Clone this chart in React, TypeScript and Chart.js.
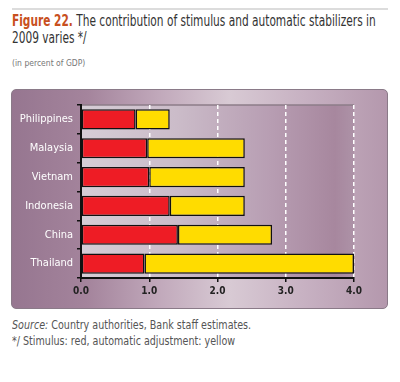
import React, { useEffect, useRef } from "react";
import { Chart, registerables } from "chart.js";

Chart.register(...registerables);

const categories = ["Philippines", "Malaysia", "Vietnam", "Indonesia", "China", "Thailand"];
const stimulus = [0.8, 0.97, 1.0, 1.3, 1.42, 0.93];
const automatic = [0.5, 1.43, 1.4, 1.1, 1.38, 3.07];
const xTicks = [0, 1, 2, 3, 4];

const FONT = "'DejaVu Sans Condensed', 'Liberation Sans Narrow', Arial, sans-serif";

const plotBg = {
  id: "plotBg",
  beforeDraw(chart: any) {
    const { ctx, chartArea: a } = chart;
    ctx.save();
    const g = ctx.createLinearGradient(a.left, 0, a.right, 0);
    g.addColorStop(0, "#d6cdd6");
    g.addColorStop(0.35, "#cbbcc9");
    g.addColorStop(0.7, "#b79db2");
    g.addColorStop(0.93, "#a7879e");
    g.addColorStop(1, "#ad92a7");
    ctx.fillStyle = g;
    ctx.fillRect(a.left, a.top, a.right - a.left, a.bottom - a.top);
    ctx.strokeStyle = "#8c7c88";
    ctx.lineWidth = 1.5;
    ctx.beginPath();
    ctx.moveTo(a.left, a.top);
    ctx.lineTo(a.right, a.top);
    ctx.stroke();
    ctx.restore();
  },
};

export default function App() {
  const ref = useRef<HTMLCanvasElement | null>(null);
  useEffect(() => {
    document.body.style.margin = "0";
    if (!ref.current) return;
    const chart = new Chart(ref.current, {
      type: "bar",
      data: {
        labels: categories,
        datasets: [
          {
            label: "Stimulus",
            data: stimulus,
            backgroundColor: "#ee1c25",
            borderColor: "#111",
            borderWidth: 1.5,
            barPercentage: 0.7,
            categoryPercentage: 1,
            borderSkipped: false,
          },
          {
            label: "Automatic adjustment",
            data: automatic,
            backgroundColor: "#ffdc00",
            borderColor: "#111",
            borderWidth: 1.5,
            barPercentage: 0.7,
            categoryPercentage: 1,
            borderSkipped: false,
          },
        ],
      },
      options: {
        indexAxis: "y",
        animation: false,
        responsive: false,
        maintainAspectRatio: false,
        layout: { padding: { top: 16, right: 34, bottom: 0, left: 0 } },
        plugins: { legend: { display: false }, tooltip: { enabled: false } },
        scales: {
          x: {
            stacked: true,
            min: 0,
            max: 4,
            afterBuildTicks(scale: any) {
              scale.ticks = xTicks.map((v) => ({ value: v }));
            },
            afterFit(scale: any) {
              scale.height = 31;
            },
            ticks: {
              color: "#222",
              font: { family: FONT, size: 10, weight: "bold" },
              padding: 3,
              callback: (v: any) => Number(v).toFixed(1),
              maxRotation: 0,
            },
            grid: {
              color: (c: any) => (c.tick && c.tick.value === 0 ? "rgba(0,0,0,0)" : "#ffffff"),
              lineWidth: 1.5,
              tickColor: "#111",
              tickLength: 4,
            },
            border: { color: "#111", width: 2, dash: [4, 3] },
          },
          y: {
            stacked: true,
            afterFit(scale: any) {
              scale.width = 70;
            },
            ticks: {
              color: "#ffffff",
              font: { family: FONT, size: 11 },
              padding: 4,
            },
            grid: {
              drawOnChartArea: false,
              offset: true,
              tickColor: "#111",
              tickLength: 4,
              lineWidth: 1.5,
            },
            border: { color: "#111", width: 2 },
          },
        },
      },
      plugins: [plotBg],
    });
    return () => chart.destroy();
  }, []);

  return (
    <div style={{ position: "relative", width: 400, height: 382, fontFamily: FONT, background: "#fff" }}>
      <div style={{ position: "absolute", left: 12, top: 8, width: 376, height: 2, background: "#dcdcdc" }} />
      <div
        style={{
          position: "absolute",
          left: 12,
          top: 13,
          whiteSpace: "nowrap",
          fontSize: 15.5,
          lineHeight: "17px",
          color: "#333",
          transform: "scaleX(0.76)",
          transformOrigin: "0 0",
        }}
      >
        <span style={{ color: "#c8501e", fontWeight: "bold" }}>Figure 22.</span> The contribution of stimulus and automatic stabilizers in
        <br />
        2009 varies */
      </div>
      <div style={{ position: "absolute", left: 12, top: 58, fontSize: 8.5, color: "#777" }}>(in percent of GDP)</div>
      <div
        style={{
          position: "absolute",
          left: 11,
          top: 89,
          width: 377,
          height: 220,
          boxSizing: "border-box",
          border: "1px solid #8a7a88",
          borderRadius: 5,
          overflow: "hidden",
          background:
            "linear-gradient(90deg, #967690 0%, #a4849c 20%, #c2aabc 40%, #d8cad4 58%, #c7b1c2 78%, #b498ad 100%)",
        }}
      >
        <canvas ref={ref} width={377} height={220} style={{ position: "absolute", left: -1, top: -1 }} />
      </div>
      <div
        style={{
          position: "absolute",
          left: 12,
          top: 317,
          whiteSpace: "nowrap",
          fontSize: 12.5,
          lineHeight: "16px",
          color: "#555",
          transform: "scaleX(0.85)",
          transformOrigin: "0 0",
        }}
      >
        <div>
          <i>Source:</i> Country authorities, Bank staff estimates.
        </div>
        <div>*/ Stimulus: red, automatic adjustment: yellow</div>
      </div>
    </div>
  );
}
